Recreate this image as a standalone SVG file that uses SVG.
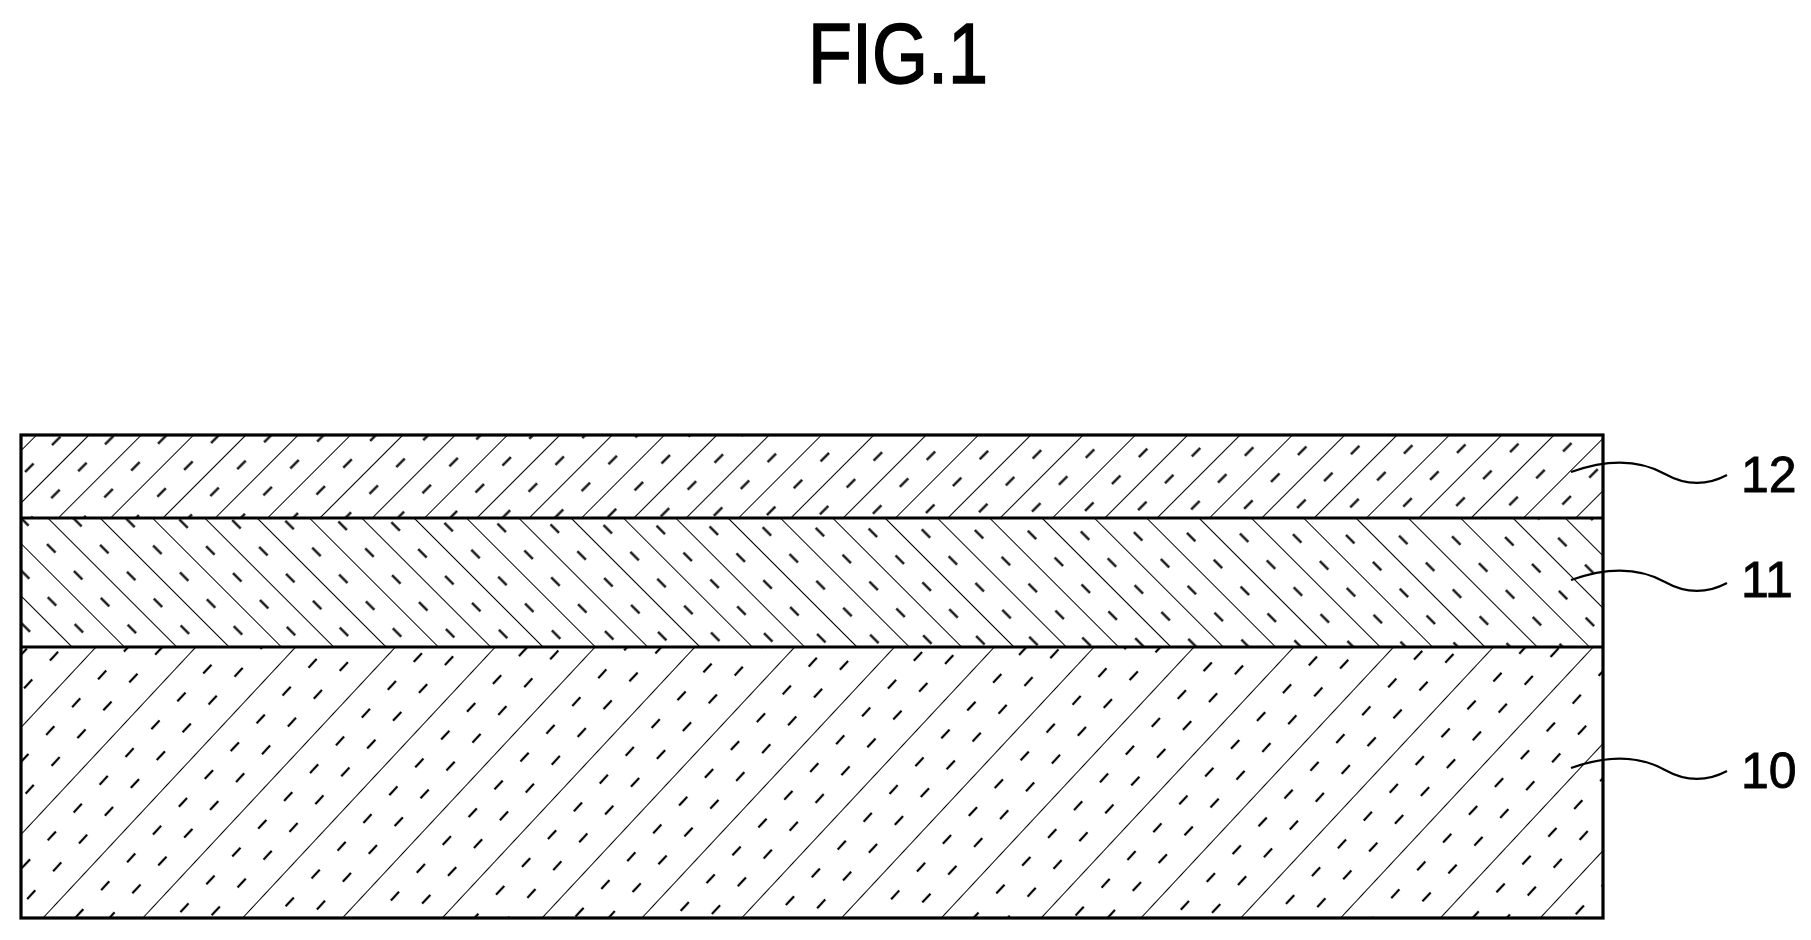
<svg xmlns="http://www.w3.org/2000/svg" width="1811" height="940" viewBox="0 0 1811 940">
<style>
.s{stroke:#000;stroke-width:2;fill:none}
.d{stroke:#000;stroke-width:2.2;fill:none;stroke-dasharray:12 26}
.o{stroke:#000;stroke-width:3.2;fill:none}
.lead{stroke:#000;stroke-width:2.2;fill:none}
.lbl{font-family:"Liberation Sans",Arial,sans-serif;font-size:50px;fill:#000;stroke:#000;stroke-width:0.8}
</style>
<defs>
<pattern id="p12" patternUnits="userSpaceOnUse" width="37" height="38" patternTransform="rotate(45)">
<line class="s" x1="0" y1="0" x2="0" y2="38"/><line class="d" x1="18.5" y1="0" x2="18.5" y2="38"/>
</pattern>
<pattern id="p11" patternUnits="userSpaceOnUse" width="37" height="38" patternTransform="rotate(-45)">
<line class="s" x1="0" y1="0" x2="0" y2="38"/><line class="d" x1="18.5" y1="0" x2="18.5" y2="38"/>
</pattern>
<pattern id="p10" patternUnits="userSpaceOnUse" width="73" height="38" patternTransform="rotate(43)">
<line class="s" x1="0" y1="0" x2="0" y2="38"/><line class="d" x1="24" y1="0" x2="24" y2="38"/><line class="d" x1="49" y1="19" x2="49" y2="57"/><line class="d" x1="49" y1="-19" x2="49" y2="19"/>
</pattern>
</defs>
<rect width="1811" height="940" fill="#fff"/>
<text x="898" y="83" text-anchor="middle" font-family="Liberation Sans, Arial, sans-serif" font-size="86" stroke="#000" stroke-width="1.5" textLength="180" lengthAdjust="spacingAndGlyphs">FIG.1</text>
<g id="layer12"><rect x="21" y="435" width="1582" height="83" fill="url(#p12)"/></g>
<g id="layer11"><rect x="21" y="518" width="1582" height="129" fill="url(#p11)"/></g>
<g id="layer10"><rect x="21" y="647" width="1582" height="271" fill="url(#p10)"/></g>
<g id="outline">
<rect class="o" x="21" y="435" width="1582" height="483"/>
<line class="o" x1="21" y1="518" x2="1603" y2="518"/>
<line class="o" x1="21" y1="647" x2="1603" y2="647"/>
</g>
<g id="connectors">
<path class="lead" d="M1571,472 C1610,458 1640,460 1665,474 C1690,488 1710,484 1727,475"/>
<path class="lead" d="M1571,580 C1610,566 1640,568 1665,582 C1690,596 1710,592 1727,583"/>
<path class="lead" d="M1571,768 C1610,754 1640,756 1665,770 C1690,784 1710,780 1727,771"/>
</g>
<g id="labels">
<text class="lbl" x="1741" y="492">12</text>
<text class="lbl" x="1741" y="597">11</text>
<text class="lbl" x="1741" y="788">10</text>
</g>
</svg>
